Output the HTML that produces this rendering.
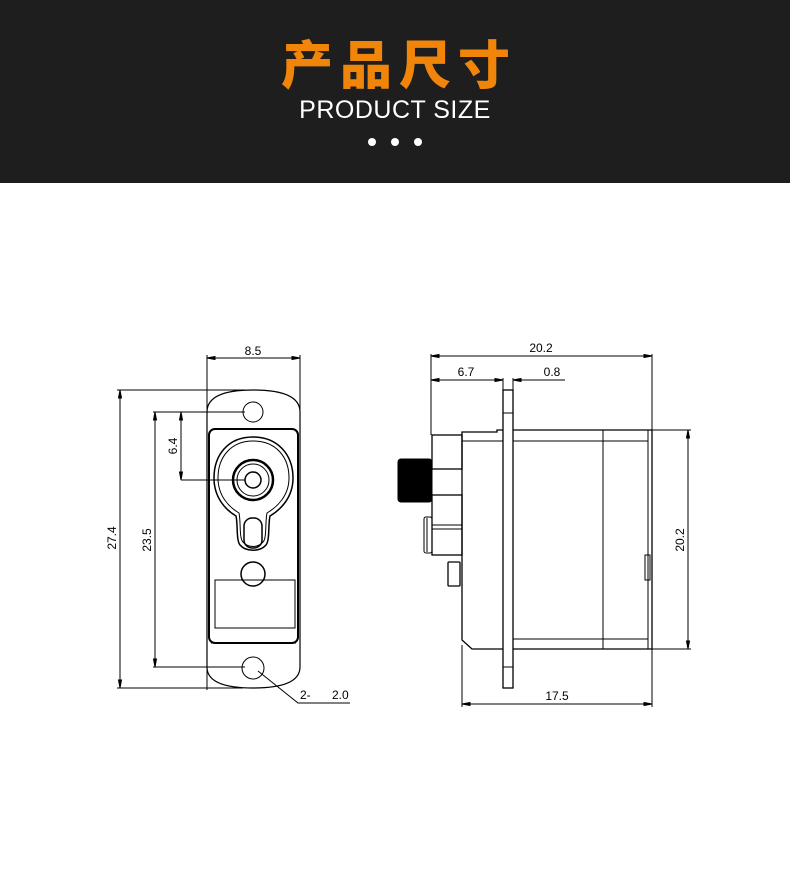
<!DOCTYPE html>
<html><head><meta charset="utf-8"><style>
html,body{margin:0;padding:0;background:#fff;}
body{width:790px;height:872px;position:relative;overflow:hidden;font-family:"Liberation Sans","Noto Sans CJK SC",sans-serif;}
.hdr{position:absolute;left:0;top:0;width:790px;height:183px;background:#1e1e1e;}
.t1{position:absolute;left:4px;width:790px;top:32px;text-align:center;color:#f0850a;font-size:52px;font-weight:900;letter-spacing:7px;line-height:60px;font-family:"Noto Sans CJK SC","WenQuanYi Zen Hei",sans-serif;}
.t2{position:absolute;left:0;width:790px;top:95px;text-align:center;color:#fff;font-size:25px;letter-spacing:0.5px;line-height:30px;}
.dot{position:absolute;top:138px;width:8px;height:8px;border-radius:50%;background:#fff;}
svg{position:absolute;left:0;top:0;}
</style></head><body>
<div class="hdr">
<div class="t1">产品尺寸</div>
<div class="t2">PRODUCT SIZE</div>
<div class="dot" style="left:368px"></div><div class="dot" style="left:391px"></div><div class="dot" style="left:414px"></div>
</div>
<svg width="790" height="872" viewBox="0 0 790 872" fill="none" stroke="#000" stroke-width="1" font-family="Liberation Sans, sans-serif" font-size="12">
<!-- LEFT VIEW -->
<path d="M207 412 Q207 390 253 390 Q300 390 300 412 L300 667 Q300 688 253 688 Q207 688 207 667 Z" stroke-width="1.2"/>
<line x1="207" y1="355" x2="207" y2="690"/>
<line x1="300" y1="355" x2="300" y2="412"/>
<line x1="207" y1="358" x2="300" y2="358"/>
<path d="M207 358 l8 -1.5 v3z M300 358 l-8 -1.5 v3z" fill="#000"/>
<text x="253" y="355" text-anchor="middle" fill="#000" stroke="none">8.5</text>
<circle cx="253" cy="412" r="10"/>
<circle cx="253" cy="668" r="11"/>
<rect x="209" y="429" width="89" height="214" rx="6" stroke-width="2"/>
<path d="M253 437 C228 437 214 455 214 478 C214 498 226 510 236 516 C238 524 236 540 240 545 C246 552 260 552 266 545 C270 540 268 524 270 516 C280 510 293 498 293 478 C293 455 278 437 253 437 Z" stroke-width="1.5"/>
<path d="M253 441 C231 441 218 457 218 478 C218 496 229 507 239 513 C241 522 239 538 243 542 C248 548 258 548 263 542 C267 538 265 522 267 513 C277 507 289 496 289 478 C289 457 276 441 253 441 Z"/>
<rect x="244" y="518" width="18" height="30" rx="8" stroke-width="1.5"/>
<circle cx="253" cy="480" r="20" stroke-width="2.5"/>
<circle cx="253" cy="480" r="16"/>
<circle cx="253" cy="480" r="8" stroke-width="1.5"/>
<circle cx="253" cy="574" r="12" stroke-width="1.5"/>
<rect x="215" y="580" width="80" height="48"/>
<line x1="211" y1="643" x2="296" y2="643"/>
<line x1="117" y1="390" x2="245" y2="390"/>
<line x1="117" y1="688" x2="243" y2="688"/>
<line x1="120" y1="390" x2="120" y2="688"/>
<path d="M120 390 l-1.5 8 h3z M120 688 l-1.5 -8 h3z" fill="#000"/>
<text transform="translate(116,538) rotate(-90)" text-anchor="middle" fill="#000" stroke="none">27.4</text>
<line x1="153" y1="412" x2="245" y2="412"/>
<line x1="153" y1="667" x2="245" y2="667"/>
<line x1="155" y1="412" x2="155" y2="667"/>
<path d="M155 412 l-1.5 8 h3z M155 667 l-1.5 -8 h3z" fill="#000"/>
<text transform="translate(151,540) rotate(-90)" text-anchor="middle" fill="#000" stroke="none">23.5</text>
<line x1="181" y1="412" x2="181" y2="480"/>
<line x1="181" y1="480" x2="245" y2="480"/>
<path d="M181 412 l-1.5 8 h3z M181 480 l-1.5 -8 h3z" fill="#000"/>
<text transform="translate(177,446) rotate(-90)" text-anchor="middle" fill="#000" stroke="none">6.4</text>
<polyline points="258,671 298,703 350,703"/>
<text x="300" y="699" fill="#000" stroke="none">2-</text>
<text x="332" y="699" fill="#000" stroke="none">2.0</text>
<!-- RIGHT VIEW -->
<line x1="431" y1="354" x2="431" y2="435"/>
<line x1="652" y1="354" x2="652" y2="430"/>
<line x1="431" y1="356" x2="652" y2="356"/>
<path d="M431 356 l8 -1.5 v3z M652 356 l-8 -1.5 v3z" fill="#000"/>
<text x="541" y="352" text-anchor="middle" fill="#000" stroke="none">20.2</text>
<line x1="431" y1="380" x2="503" y2="380"/>
<line x1="513" y1="380" x2="565" y2="380"/>
<line x1="503" y1="378" x2="503" y2="390"/>
<line x1="513" y1="378" x2="513" y2="390"/>
<path d="M431 380 l8 -1.5 v3z M503 380 l-8 -1.5 v3z M513 380 l8 -1.5 v3z" fill="#000"/>
<text x="466" y="376" text-anchor="middle" fill="#000" stroke="none">6.7</text>
<text x="552" y="376" text-anchor="middle" fill="#000" stroke="none">0.8</text>
<rect x="503" y="390" width="10" height="298" stroke-width="1.3"/>
<line x1="503" y1="413" x2="513" y2="413"/>
<line x1="503" y1="667" x2="513" y2="667"/>
<path d="M513 430 H652 V649 H513" stroke-width="1.3"/>
<line x1="513" y1="441" x2="648" y2="441"/>
<line x1="513" y1="639" x2="648" y2="639"/>
<line x1="648" y1="430" x2="648" y2="649"/>
<line x1="603" y1="430" x2="603" y2="649"/>
<rect x="645" y="555" width="5" height="25"/>
<path d="M503 430 H497 V432 H462 V640 L472 649 H503" stroke-width="1.3"/>
<line x1="462" y1="441" x2="503" y2="441"/>
<rect x="432" y="435" width="30" height="34" stroke-width="1.3"/>
<rect x="398" y="459" width="34" height="43" rx="3" fill="#000"/>
<rect x="432" y="495" width="30" height="60" stroke-width="1.3"/>
<rect x="424" y="517" width="8" height="36" rx="2"/>
<line x1="427" y1="518" x2="427" y2="552"/>
<line x1="432" y1="525" x2="462" y2="525"/>
<line x1="432" y1="529" x2="462" y2="529"/>
<rect x="448" y="562" width="12" height="24" rx="1" stroke-width="1.3"/>
<line x1="652" y1="430" x2="691" y2="430"/>
<line x1="652" y1="649" x2="691" y2="649"/>
<line x1="688" y1="430" x2="688" y2="649"/>
<path d="M688 430 l-1.5 8 h3z M688 649 l-1.5 -8 h3z" fill="#000"/>
<text transform="translate(684,540) rotate(-90)" text-anchor="middle" fill="#000" stroke="none">20.2</text>
<line x1="462" y1="645" x2="462" y2="707"/>
<line x1="652" y1="649" x2="652" y2="707"/>
<line x1="462" y1="704" x2="652" y2="704"/>
<path d="M462 704 l8 -1.5 v3z M652 704 l-8 -1.5 v3z" fill="#000"/>
<text x="557" y="700" text-anchor="middle" fill="#000" stroke="none">17.5</text>
</svg>
</body></html>
